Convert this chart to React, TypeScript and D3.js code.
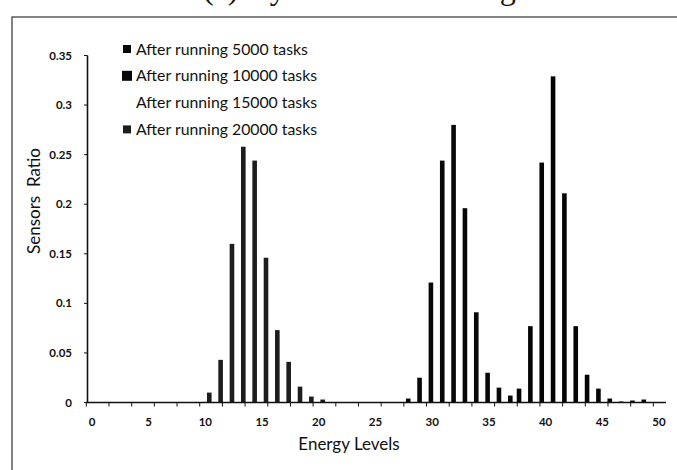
import React from "react";
import * as d3 from "d3";

// ---- data ----
const energyLevels: number[] = [
  0, 1, 2, 3, 4, 5, 6, 7, 8, 9, 10, 11, 12, 13, 14, 15, 16, 17, 18, 19, 20,
  21, 22, 23, 24, 25, 26, 27, 28, 29, 30, 31, 32, 33, 34, 35, 36, 37, 38, 39,
  40, 41, 42, 43, 44, 45, 46, 47, 48, 49, 50,
];
const xTickLabels: number[] = [0, 5, 10, 15, 20, 25, 30, 35, 40, 45, 50];
const yTickValues: number[] = [0, 0.05, 0.1, 0.15, 0.2, 0.25, 0.3, 0.35];

const seriesNames: string[] = [
  "After running 5000 tasks",
  "After running 10000 tasks",
  "After running 15000 tasks",
  "After running 20000 tasks",
];

// energy level -> sensors ratio
const energy5000: number[] = [38, 39, 40, 41, 42, 43, 44, 45, 46, 47, 48, 49];
const ratio5000: number[] = [0.014, 0.077, 0.242, 0.329, 0.211, 0.077, 0.028, 0.014, 0.004, 0.001, 0.002, 0.003];

const energy10000: number[] = [28, 29, 30, 31, 32, 33, 34, 35, 36, 37];
const ratio10000: number[] = [0.004, 0.025, 0.121, 0.244, 0.28, 0.196, 0.091, 0.03, 0.015, 0.007];

const energy15000: number[] = [];
const ratio15000: number[] = [];

const energy20000: number[] = [10, 11, 12, 13, 14, 15, 16, 17, 18, 19, 20];
const ratio20000: number[] = [0.01, 0.043, 0.16, 0.258, 0.244, 0.146, 0.073, 0.041, 0.016, 0.006, 0.003];

const seriesColors: string[] = ["#050505", "#080808", "#ffffff", "#1d1d1d"];

const W = 677;
const H = 470;

export default function App() {
  const x = d3
    .scaleBand<number>()
    .domain(energyLevels)
    .range([86.3, 664.7])
    .paddingInner(0)
    .paddingOuter(0);
  const y = d3.scaleLinear().domain([0, 0.35]).range([402.5, 55.5]);

  const series = [
    { e: energy5000, v: ratio5000 },
    { e: energy10000, v: ratio10000 },
    { e: energy15000, v: ratio15000 },
    { e: energy20000, v: ratio20000 },
  ];
  const slotStep = 2.6;
  const barW = 4.6;
  const bw = x.bandwidth();

  const font = "Lato, 'Open Sans', sans-serif";

  // x tick marks every 2 categories at category boundaries
  const tickBoundaries = energyLevels.filter((e) => e % 2 === 0);

  return (
    <svg
      width={W}
      height={H}
      style={{ position: "absolute", left: 0, top: 0, background: "#fff" }}
    >
      {/* figure caption, cut off at the top edge as in the reference */}
      <text
        x={203}
        y={-1}
        fontFamily="'Liberation Serif', 'Times New Roman', serif"
        fontSize={32}
        fill="#111"
      >
        (c) Dynamic Scheduling
      </text>

      {/* outer frame */}
      <rect x={12} y={17} width={720} height={520} fill="none" stroke="#333" strokeWidth={1.2} />

      {/* bars */}
      {series.map((s, k) =>
        s.e.map((e, i) => {
          const cx = (x(e) as number) + bw / 2 + (k - 1.5) * slotStep;
          return (
            <rect
              key={`b${k}-${i}`}
              x={cx - barW / 2}
              y={y(s.v[i])}
              width={barW}
              height={y(0) - y(s.v[i])}
              fill={seriesColors[k]}
            />
          );
        })
      )}

      {/* y axis */}
      <line x1={87.5} x2={87.5} y1={y(0.35)} y2={y(0)} stroke="#111" strokeWidth={1.6} />
      {yTickValues.map((t) => (
        <g key={`yt${t}`}>
          <line x1={84} x2={87.5} y1={y(t)} y2={y(t)} stroke="#111" strokeWidth={1} />
          <text
            x={72}
            y={y(t)}
            dy="0.35em"
            textAnchor="end"
            fontFamily={font}
            fontWeight={700}
            fontSize={11.5}
            fill="#111"
          >
            {t === 0 ? "0" : d3.format("~g")(t)}
          </text>
        </g>
      ))}

      {/* x axis */}
      <line x1={86.3} x2={666} y1={y(0)} y2={y(0)} stroke="#111" strokeWidth={1.6} />
      {tickBoundaries.map((e) => (
        <line
          key={`xt${e}`}
          x1={x(e) as number}
          x2={x(e) as number}
          y1={y(0)}
          y2={y(0) + 4}
          stroke="#111"
          strokeWidth={1}
        />
      ))}
      {xTickLabels.map((t) => (
        <text
          key={`xl${t}`}
          x={(x(t) as number) + bw / 2}
          y={426}
          textAnchor="middle"
          fontFamily={font}
          fontWeight={700}
          fontSize={11.5}
          fill="#111"
        >
          {t}
        </text>
      ))}

      {/* axis titles */}
      <text
        x={349}
        y={450}
        textAnchor="middle"
        fontFamily={font}
        fontSize={17}
        fill="#111"
      >
        Energy Levels
      </text>
      <text
        transform={`translate(40, 201) rotate(-90)`}
        textAnchor="middle"
        fontFamily={font}
        fontSize={17}
        fill="#111"
        style={{ whiteSpace: "pre" }}
      >
        {"Sensors  Ratio"}
      </text>

      {/* legend */}
      {seriesNames.map((name, k) => {
        const cy = 49 + k * 26.8;
        const size = k === 1 ? 10 : 8;
        return (
          <g key={`lg${k}`}>
            {k !== 2 && (
              <rect
                x={127 - size / 2}
                y={cy - size / 2}
                width={size}
                height={size}
                fill={seriesColors[k]}
              />
            )}
            <text
              x={136}
              y={cy}
              dy="0.35em"
              fontFamily={font}
              fontSize={15.8}
              fill="#111"
            >
              {name}
            </text>
          </g>
        );
      })}
    </svg>
  );
}
